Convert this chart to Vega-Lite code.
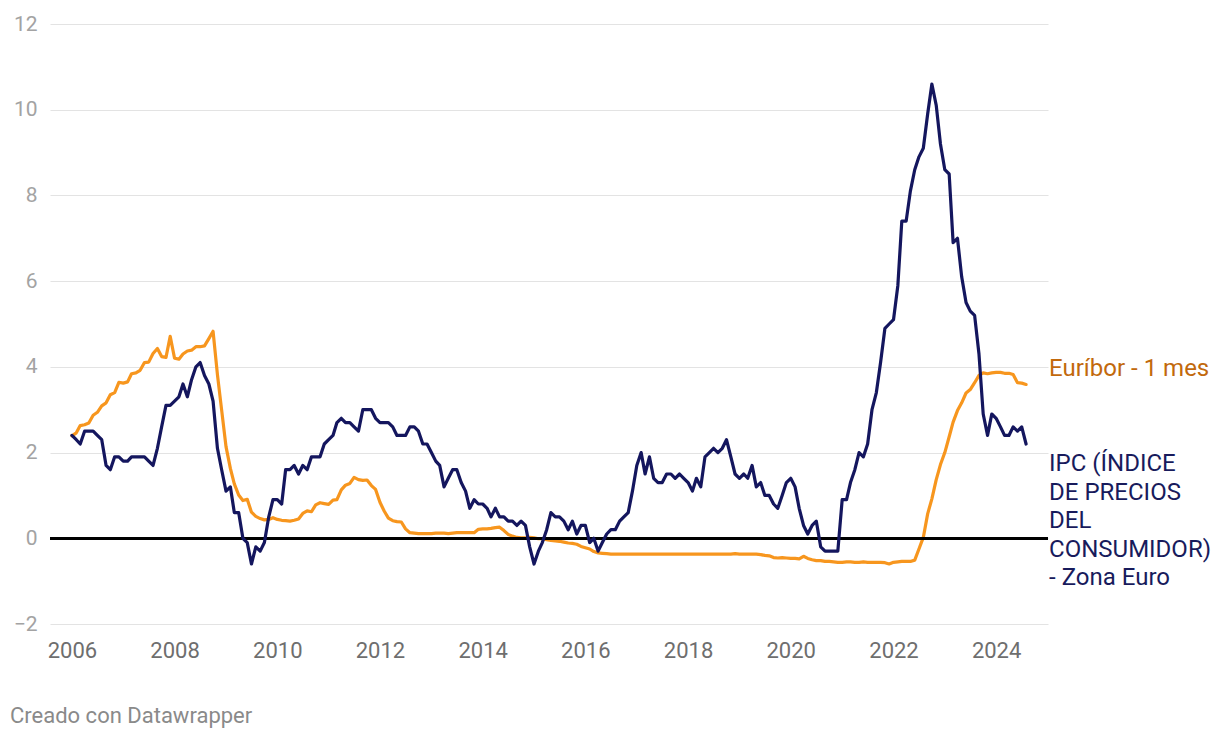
{
  "$schema": "https://vega.github.io/schema/vega-lite/v6.json",
  "width": 998,
  "height": 600,
  "autosize": "none",
  "padding": {"left": 50, "top": 24, "right": 172, "bottom": 116},
  "background": "white",
  "config": {"view": {"stroke": null}, "font": "Roboto"},
  "title": {
    "text": "Creado con Datawrapper",
    "orient": "bottom",
    "anchor": "start",
    "frame": "group",
    "dx": -40,
    "offset": 45,
    "font": "Roboto",
    "fontSize": 22,
    "fontWeight": "normal",
    "color": "#8a8a8a"
  },
  "data": {
    "format": {"parse": {"date": "utc:'%Y-%m-%d'"}},
    "values": [
      {"date":"2006-01-01","ipc":2.4,"euribor":2.39},{"date":"2006-02-01","ipc":2.3,"euribor":2.46},{"date":"2006-03-01","ipc":2.2,"euribor":2.63},{"date":"2006-04-01","ipc":2.5,"euribor":2.65},{"date":"2006-05-01","ipc":2.5,"euribor":2.69},{"date":"2006-06-01","ipc":2.5,"euribor":2.87},{"date":"2006-07-01","ipc":2.4,"euribor":2.94},{"date":"2006-08-01","ipc":2.3,"euribor":3.09},{"date":"2006-09-01","ipc":1.7,"euribor":3.16},{"date":"2006-10-01","ipc":1.6,"euribor":3.35},{"date":"2006-11-01","ipc":1.9,"euribor":3.40},{"date":"2006-12-01","ipc":1.9,"euribor":3.64},
      {"date":"2007-01-01","ipc":1.8,"euribor":3.62},{"date":"2007-02-01","ipc":1.8,"euribor":3.65},{"date":"2007-03-01","ipc":1.9,"euribor":3.84},{"date":"2007-04-01","ipc":1.9,"euribor":3.86},{"date":"2007-05-01","ipc":1.9,"euribor":3.92},{"date":"2007-06-01","ipc":1.9,"euribor":4.10},{"date":"2007-07-01","ipc":1.8,"euribor":4.11},{"date":"2007-08-01","ipc":1.7,"euribor":4.31},{"date":"2007-09-01","ipc":2.1,"euribor":4.43},{"date":"2007-10-01","ipc":2.6,"euribor":4.24},{"date":"2007-11-01","ipc":3.1,"euribor":4.22},{"date":"2007-12-01","ipc":3.1,"euribor":4.71},
      {"date":"2008-01-01","ipc":3.2,"euribor":4.20},{"date":"2008-02-01","ipc":3.3,"euribor":4.18},{"date":"2008-03-01","ipc":3.6,"euribor":4.30},{"date":"2008-04-01","ipc":3.3,"euribor":4.37},{"date":"2008-05-01","ipc":3.7,"euribor":4.39},{"date":"2008-06-01","ipc":4.0,"euribor":4.47},{"date":"2008-07-01","ipc":4.1,"euribor":4.47},{"date":"2008-08-01","ipc":3.8,"euribor":4.49},{"date":"2008-09-01","ipc":3.6,"euribor":4.66},{"date":"2008-10-01","ipc":3.2,"euribor":4.83},{"date":"2008-11-01","ipc":2.1,"euribor":3.82},{"date":"2008-12-01","ipc":1.6,"euribor":2.99},
      {"date":"2009-01-01","ipc":1.1,"euribor":2.14},{"date":"2009-02-01","ipc":1.2,"euribor":1.63},{"date":"2009-03-01","ipc":0.6,"euribor":1.27},{"date":"2009-04-01","ipc":0.6,"euribor":1.01},{"date":"2009-05-01","ipc":0.0,"euribor":0.88},{"date":"2009-06-01","ipc":-0.1,"euribor":0.91},{"date":"2009-07-01","ipc":-0.6,"euribor":0.61},{"date":"2009-08-01","ipc":-0.2,"euribor":0.51},{"date":"2009-09-01","ipc":-0.3,"euribor":0.46},{"date":"2009-10-01","ipc":-0.1,"euribor":0.43},{"date":"2009-11-01","ipc":0.5,"euribor":0.44},{"date":"2009-12-01","ipc":0.9,"euribor":0.48},
      {"date":"2010-01-01","ipc":0.9,"euribor":0.44},{"date":"2010-02-01","ipc":0.8,"euribor":0.42},{"date":"2010-03-01","ipc":1.6,"euribor":0.41},{"date":"2010-04-01","ipc":1.6,"euribor":0.40},{"date":"2010-05-01","ipc":1.7,"euribor":0.42},{"date":"2010-06-01","ipc":1.5,"euribor":0.45},{"date":"2010-07-01","ipc":1.7,"euribor":0.58},{"date":"2010-08-01","ipc":1.6,"euribor":0.64},{"date":"2010-09-01","ipc":1.9,"euribor":0.62},{"date":"2010-10-01","ipc":1.9,"euribor":0.78},{"date":"2010-11-01","ipc":1.9,"euribor":0.83},{"date":"2010-12-01","ipc":2.2,"euribor":0.81},
      {"date":"2011-01-01","ipc":2.3,"euribor":0.79},{"date":"2011-02-01","ipc":2.4,"euribor":0.89},{"date":"2011-03-01","ipc":2.7,"euribor":0.90},{"date":"2011-04-01","ipc":2.8,"euribor":1.13},{"date":"2011-05-01","ipc":2.7,"euribor":1.24},{"date":"2011-06-01","ipc":2.7,"euribor":1.28},{"date":"2011-07-01","ipc":2.6,"euribor":1.42},{"date":"2011-08-01","ipc":2.5,"euribor":1.37},{"date":"2011-09-01","ipc":3.0,"euribor":1.35},{"date":"2011-10-01","ipc":3.0,"euribor":1.36},{"date":"2011-11-01","ipc":3.0,"euribor":1.23},{"date":"2011-12-01","ipc":2.8,"euribor":1.14},
      {"date":"2012-01-01","ipc":2.7,"euribor":0.84},{"date":"2012-02-01","ipc":2.7,"euribor":0.63},{"date":"2012-03-01","ipc":2.7,"euribor":0.47},{"date":"2012-04-01","ipc":2.6,"euribor":0.41},{"date":"2012-05-01","ipc":2.4,"euribor":0.39},{"date":"2012-06-01","ipc":2.4,"euribor":0.38},{"date":"2012-07-01","ipc":2.4,"euribor":0.22},{"date":"2012-08-01","ipc":2.6,"euribor":0.13},{"date":"2012-09-01","ipc":2.6,"euribor":0.12},{"date":"2012-10-01","ipc":2.5,"euribor":0.11},{"date":"2012-11-01","ipc":2.2,"euribor":0.11},{"date":"2012-12-01","ipc":2.2,"euribor":0.11},
      {"date":"2013-01-01","ipc":2.0,"euribor":0.11},{"date":"2013-02-01","ipc":1.8,"euribor":0.12},{"date":"2013-03-01","ipc":1.7,"euribor":0.12},{"date":"2013-04-01","ipc":1.2,"euribor":0.12},{"date":"2013-05-01","ipc":1.4,"euribor":0.11},{"date":"2013-06-01","ipc":1.6,"euribor":0.12},{"date":"2013-07-01","ipc":1.6,"euribor":0.13},{"date":"2013-08-01","ipc":1.3,"euribor":0.13},{"date":"2013-09-01","ipc":1.1,"euribor":0.13},{"date":"2013-10-01","ipc":0.7,"euribor":0.13},{"date":"2013-11-01","ipc":0.9,"euribor":0.13},{"date":"2013-12-01","ipc":0.8,"euribor":0.21},
      {"date":"2014-01-01","ipc":0.8,"euribor":0.22},{"date":"2014-02-01","ipc":0.7,"euribor":0.22},{"date":"2014-03-01","ipc":0.5,"euribor":0.23},{"date":"2014-04-01","ipc":0.7,"euribor":0.25},{"date":"2014-05-01","ipc":0.5,"euribor":0.26},{"date":"2014-06-01","ipc":0.5,"euribor":0.18},{"date":"2014-07-01","ipc":0.4,"euribor":0.09},{"date":"2014-08-01","ipc":0.4,"euribor":0.05},{"date":"2014-09-01","ipc":0.3,"euribor":0.02},{"date":"2014-10-01","ipc":0.4,"euribor":0.01},{"date":"2014-11-01","ipc":0.3,"euribor":0.01},{"date":"2014-12-01","ipc":-0.2,"euribor":0.02},
      {"date":"2015-01-01","ipc":-0.6,"euribor":0.01},{"date":"2015-02-01","ipc":-0.3,"euribor":-0.01},{"date":"2015-03-01","ipc":-0.1,"euribor":-0.01},{"date":"2015-04-01","ipc":0.2,"euribor":-0.03},{"date":"2015-05-01","ipc":0.6,"euribor":-0.05},{"date":"2015-06-01","ipc":0.5,"euribor":-0.06},{"date":"2015-07-01","ipc":0.5,"euribor":-0.07},{"date":"2015-08-01","ipc":0.4,"euribor":-0.09},{"date":"2015-09-01","ipc":0.2,"euribor":-0.11},{"date":"2015-10-01","ipc":0.4,"euribor":-0.12},{"date":"2015-11-01","ipc":0.1,"euribor":-0.14},{"date":"2015-12-01","ipc":0.3,"euribor":-0.19},
      {"date":"2016-01-01","ipc":0.3,"euribor":-0.22},{"date":"2016-02-01","ipc":-0.1,"euribor":-0.25},{"date":"2016-03-01","ipc":0.0,"euribor":-0.31},{"date":"2016-04-01","ipc":-0.3,"euribor":-0.34},{"date":"2016-05-01","ipc":-0.1,"euribor":-0.35},{"date":"2016-06-01","ipc":0.1,"euribor":-0.36},{"date":"2016-07-01","ipc":0.2,"euribor":-0.37},{"date":"2016-08-01","ipc":0.2,"euribor":-0.37},{"date":"2016-09-01","ipc":0.4,"euribor":-0.37},{"date":"2016-10-01","ipc":0.5,"euribor":-0.37},{"date":"2016-11-01","ipc":0.6,"euribor":-0.37},{"date":"2016-12-01","ipc":1.1,"euribor":-0.37},
      {"date":"2017-01-01","ipc":1.7,"euribor":-0.37},{"date":"2017-02-01","ipc":2.0,"euribor":-0.37},{"date":"2017-03-01","ipc":1.5,"euribor":-0.37},{"date":"2017-04-01","ipc":1.9,"euribor":-0.37},{"date":"2017-05-01","ipc":1.4,"euribor":-0.37},{"date":"2017-06-01","ipc":1.3,"euribor":-0.37},{"date":"2017-07-01","ipc":1.3,"euribor":-0.37},{"date":"2017-08-01","ipc":1.5,"euribor":-0.37},{"date":"2017-09-01","ipc":1.5,"euribor":-0.37},{"date":"2017-10-01","ipc":1.4,"euribor":-0.37},{"date":"2017-11-01","ipc":1.5,"euribor":-0.37},{"date":"2017-12-01","ipc":1.4,"euribor":-0.37},
      {"date":"2018-01-01","ipc":1.3,"euribor":-0.37},{"date":"2018-02-01","ipc":1.1,"euribor":-0.37},{"date":"2018-03-01","ipc":1.4,"euribor":-0.37},{"date":"2018-04-01","ipc":1.2,"euribor":-0.37},{"date":"2018-05-01","ipc":1.9,"euribor":-0.37},{"date":"2018-06-01","ipc":2.0,"euribor":-0.37},{"date":"2018-07-01","ipc":2.1,"euribor":-0.37},{"date":"2018-08-01","ipc":2.0,"euribor":-0.37},{"date":"2018-09-01","ipc":2.1,"euribor":-0.37},{"date":"2018-10-01","ipc":2.3,"euribor":-0.37},{"date":"2018-11-01","ipc":1.9,"euribor":-0.37},{"date":"2018-12-01","ipc":1.5,"euribor":-0.36},
      {"date":"2019-01-01","ipc":1.4,"euribor":-0.37},{"date":"2019-02-01","ipc":1.5,"euribor":-0.37},{"date":"2019-03-01","ipc":1.4,"euribor":-0.37},{"date":"2019-04-01","ipc":1.7,"euribor":-0.37},{"date":"2019-05-01","ipc":1.2,"euribor":-0.37},{"date":"2019-06-01","ipc":1.3,"euribor":-0.38},{"date":"2019-07-01","ipc":1.0,"euribor":-0.40},{"date":"2019-08-01","ipc":1.0,"euribor":-0.41},{"date":"2019-09-01","ipc":0.8,"euribor":-0.45},{"date":"2019-10-01","ipc":0.7,"euribor":-0.46},{"date":"2019-11-01","ipc":1.0,"euribor":-0.45},{"date":"2019-12-01","ipc":1.3,"euribor":-0.46},
      {"date":"2020-01-01","ipc":1.4,"euribor":-0.47},{"date":"2020-02-01","ipc":1.2,"euribor":-0.47},{"date":"2020-03-01","ipc":0.7,"euribor":-0.48},{"date":"2020-04-01","ipc":0.3,"euribor":-0.42},{"date":"2020-05-01","ipc":0.1,"euribor":-0.47},{"date":"2020-06-01","ipc":0.3,"euribor":-0.50},{"date":"2020-07-01","ipc":0.4,"euribor":-0.52},{"date":"2020-08-01","ipc":-0.2,"euribor":-0.52},{"date":"2020-09-01","ipc":-0.3,"euribor":-0.54},{"date":"2020-10-01","ipc":-0.3,"euribor":-0.54},{"date":"2020-11-01","ipc":-0.3,"euribor":-0.55},{"date":"2020-12-01","ipc":-0.3,"euribor":-0.56},
      {"date":"2021-01-01","ipc":0.9,"euribor":-0.56},{"date":"2021-02-01","ipc":0.9,"euribor":-0.55},{"date":"2021-03-01","ipc":1.3,"euribor":-0.55},{"date":"2021-04-01","ipc":1.6,"euribor":-0.56},{"date":"2021-05-01","ipc":2.0,"euribor":-0.56},{"date":"2021-06-01","ipc":1.9,"euribor":-0.55},{"date":"2021-07-01","ipc":2.2,"euribor":-0.56},{"date":"2021-08-01","ipc":3.0,"euribor":-0.56},{"date":"2021-09-01","ipc":3.4,"euribor":-0.56},{"date":"2021-10-01","ipc":4.1,"euribor":-0.56},{"date":"2021-11-01","ipc":4.9,"euribor":-0.57},{"date":"2021-12-01","ipc":5.0,"euribor":-0.60},
      {"date":"2022-01-01","ipc":5.1,"euribor":-0.56},{"date":"2022-02-01","ipc":5.9,"euribor":-0.55},{"date":"2022-03-01","ipc":7.4,"euribor":-0.54},{"date":"2022-04-01","ipc":7.4,"euribor":-0.54},{"date":"2022-05-01","ipc":8.1,"euribor":-0.54},{"date":"2022-06-01","ipc":8.6,"euribor":-0.51},{"date":"2022-07-01","ipc":8.9,"euribor":-0.25},{"date":"2022-08-01","ipc":9.1,"euribor":0.02},{"date":"2022-09-01","ipc":9.9,"euribor":0.57},{"date":"2022-10-01","ipc":10.6,"euribor":0.92},{"date":"2022-11-01","ipc":10.1,"euribor":1.37},{"date":"2022-12-01","ipc":9.2,"euribor":1.72},
      {"date":"2023-01-01","ipc":8.6,"euribor":2.00},{"date":"2023-02-01","ipc":8.5,"euribor":2.37},{"date":"2023-03-01","ipc":6.9,"euribor":2.71},{"date":"2023-04-01","ipc":7.0,"euribor":2.98},{"date":"2023-05-01","ipc":6.1,"euribor":3.16},{"date":"2023-06-01","ipc":5.5,"euribor":3.39},{"date":"2023-07-01","ipc":5.3,"euribor":3.47},{"date":"2023-08-01","ipc":5.2,"euribor":3.63},{"date":"2023-09-01","ipc":4.3,"euribor":3.80},{"date":"2023-10-01","ipc":2.9,"euribor":3.86},{"date":"2023-11-01","ipc":2.4,"euribor":3.84},{"date":"2023-12-01","ipc":2.9,"euribor":3.86},
      {"date":"2024-01-01","ipc":2.8,"euribor":3.87},{"date":"2024-02-01","ipc":2.6,"euribor":3.87},{"date":"2024-03-01","ipc":2.4,"euribor":3.85},{"date":"2024-04-01","ipc":2.4,"euribor":3.85},{"date":"2024-05-01","ipc":2.6,"euribor":3.82},{"date":"2024-06-01","ipc":2.5,"euribor":3.63},{"date":"2024-07-01","ipc":2.6,"euribor":3.62},{"date":"2024-08-01","ipc":2.2,"euribor":3.59}
    ]
  },
  "layer": [
    {
      "mark": {"type": "line", "color": "#f7961e", "strokeWidth": 3.2, "strokeJoin": "round", "strokeCap": "round"},
      "encoding": {
        "x": {
          "field": "date",
          "type": "temporal",
          "scale": {
            "type": "utc",
            "domain": [
              {"year": 2005, "month": 7, "date": 29, "utc": true},
              {"year": 2025, "month": 1, "date": 4, "utc": true}
            ]
          },
          "axis": {
            "title": null,
            "format": "%Y",
            "values": [
              {"year": 2006, "month": 1, "date": 1, "utc": true},
              {"year": 2008, "month": 1, "date": 1, "utc": true},
              {"year": 2010, "month": 1, "date": 1, "utc": true},
              {"year": 2012, "month": 1, "date": 1, "utc": true},
              {"year": 2014, "month": 1, "date": 1, "utc": true},
              {"year": 2016, "month": 1, "date": 1, "utc": true},
              {"year": 2018, "month": 1, "date": 1, "utc": true},
              {"year": 2020, "month": 1, "date": 1, "utc": true},
              {"year": 2022, "month": 1, "date": 1, "utc": true},
              {"year": 2024, "month": 1, "date": 1, "utc": true}
            ],
            "grid": false,
            "ticks": false,
            "domain": false,
            "labelFont": "Roboto",
            "labelFontSize": 22,
            "labelColor": "#6e6e6e",
            "labelPadding": 16,
            "labelFlush": false,
            "labelOverlap": false
          }
        },
        "y": {
          "field": "euribor",
          "type": "quantitative",
          "scale": {"domain": [-2, 12], "nice": false},
          "axis": {
            "title": null,
            "values": [-2, 0, 2, 4, 6, 8, 10, 12],
            "grid": true,
            "gridColor": "#e3e3e3",
            "gridWidth": 1,
            "ticks": false,
            "domain": false,
            "labelFont": "Roboto",
            "labelFontSize": 21,
            "labelColor": "#a3a3a3",
            "labelPadding": 13,
            "labelFlush": false
          }
        }
      }
    },
    {
      "mark": {"type": "rule", "color": "#000000", "strokeWidth": 2},
      "encoding": {"y": {"datum": 0, "type": "quantitative"}}
    },
    {
      "mark": {"type": "line", "color": "#14165e", "strokeWidth": 3.2, "strokeJoin": "round", "strokeCap": "round"},
      "encoding": {
        "x": {"field": "date", "type": "temporal"},
        "y": {"field": "ipc", "type": "quantitative"}
      }
    },
    {
      "transform": [{"filter": "time(datum.date) === utc(2024, 7, 1)"}],
      "mark": {
        "type": "text",
        "text": "Euríbor - 1 mes",
        "align": "left",
        "baseline": "middle",
        "dx": 23,
        "dy": -15,
        "font": "Roboto",
        "fontSize": 24,
        "color": "#c2690c"
      },
      "encoding": {
        "x": {"field": "date", "type": "temporal"},
        "y": {"field": "euribor", "type": "quantitative"}
      }
    },
    {
      "transform": [{"filter": "time(datum.date) === utc(2024, 7, 1)"}],
      "mark": {
        "type": "text",
        "text": ["IPC (ÍNDICE", "DE PRECIOS", "DEL", "CONSUMIDOR)", "- Zona Euro"],
        "align": "left",
        "baseline": "top",
        "dx": 23,
        "dy": 8,
        "lineHeight": 28.5,
        "font": "Roboto",
        "fontSize": 24,
        "color": "#181b5c"
      },
      "encoding": {
        "x": {"field": "date", "type": "temporal"},
        "y": {"field": "ipc", "type": "quantitative"}
      }
    }
  ],
  "resolve": {"scale": {"y": "shared", "x": "shared"}}
}
